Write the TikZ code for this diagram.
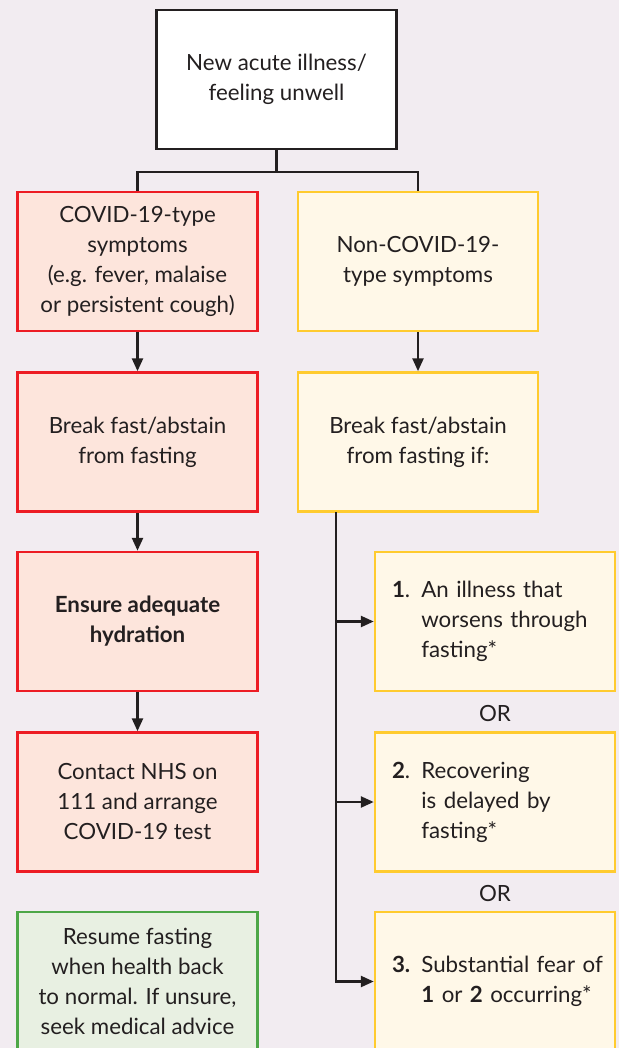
\documentclass[tikz,border=0pt]{standalone}
\usepackage{fontspec}
\setmainfont{Lato}
\usetikzlibrary{arrows.meta}
\definecolor{bg}{HTML}{F2ECF1}
\definecolor{dk}{HTML}{231F20}
\definecolor{rb}{HTML}{ED1C24}
\definecolor{rf}{HTML}{FDE5DC}
\definecolor{yb}{HTML}{FFCB2F}
\definecolor{yf}{HTML}{FFF8E8}
\definecolor{gb}{HTML}{4DA747}
\definecolor{gf}{HTML}{E8F0E2}
\tikzset{
  box/.style={draw, line width=2.5pt, minimum width=240pt, minimum height=139pt,
    align=center, inner sep=0pt, text=dk, font=\fontsize{22.3}{30}\selectfont},
  topbox/.style={box, draw=dk, fill=white},
  redbox/.style={box, draw=rb, fill=rf},
  yelbox/.style={box, draw=yb, fill=yf},
  grnbox/.style={box, draw=gb, fill=gf},
  itembox/.style={yelbox, align=left, text width=206pt},
  conn/.style={draw=dk, line width=2.5pt},
  arr/.style={conn, -{Triangle[length=13pt,width=11pt]}},
  ortext/.style={text=dk, font=\fontsize{22.3}{26}\selectfont}
}
\begin{document}
\begin{tikzpicture}[x=1pt,y=-1pt]
\useasboundingbox (0,0) rectangle (619,1048);
\clip (0,0) rectangle (619,1048);
\fill[bg] (0,0) rectangle (619,1048);

\node[topbox] (top) at (276.5,79.5) {New acute illness/\\feeling unwell};

\node[redbox] (r1) at (137.5,261.5) {COVID-19-type\\symptoms\\(e.g. fever, malaise\\or persistent cough)};
\node[redbox] (r2) at (137.5,442) {Break fast/abstain\\from fasting};
\node[redbox] (r3) at (137.5,621.5) {\textbf{Ensure adequate}\\\textbf{hydration}};
\node[redbox] (r4) at (137.5,802) {Contact NHS on\\111 and arrange\\COVID-19 test};
\node[grnbox] (g) at (137.5,981.5) {Resume fasting\\when health back\\to normal. If unsure,\\seek medical advice};

\node[yelbox] (y1) at (418,261.5) {Non-COVID-19-\\type symptoms};
\node[yelbox] (y2) at (418,442) {Break fast/abstain\\from fasting if:};

\node[itembox] (s1) at (495,621.5) {\mbox{\textbf{1}. An illness that}\\\phantom{\textbf{1}. }worsens through\\\phantom{\textbf{1}. }fasting*};
\node[ortext] (or1) at (495,713) {OR};
\node[itembox] (s2) at (495,802) {\mbox{\textbf{2}. Recovering}\\\phantom{\textbf{2}. }is delayed by\\\phantom{\textbf{2}. }fasting*};
\node[ortext] (or2) at (495,893) {OR};
\node[itembox] (s3) at (495,981.5) {\mbox{\textbf{3.} Substantial fear of}\\\mbox{\phantom{\textbf{3.} }\textbf{1} or \textbf{2} occurring*}};

\coordinate (j) at (276.5,172);
\draw[conn] (top.south) -- (j);
\draw[conn] (r1.north) |- (j) -| (y1.north);

\draw[arr] (r1.south) -- (r2.north);
\draw[arr] (r2.south) -- (r3.north);
\draw[arr] (r3.south) -- (r4.north);
\draw[arr] (y1.south) -- (y2.north);

\coordinate (vt) at (336,512);
\draw[arr] (vt) |- (s3.west);
\draw[arr] (s1.west -| vt) -- (s1.west);
\draw[arr] (s2.west -| vt) -- (s2.west);
\end{tikzpicture}
\end{document}
